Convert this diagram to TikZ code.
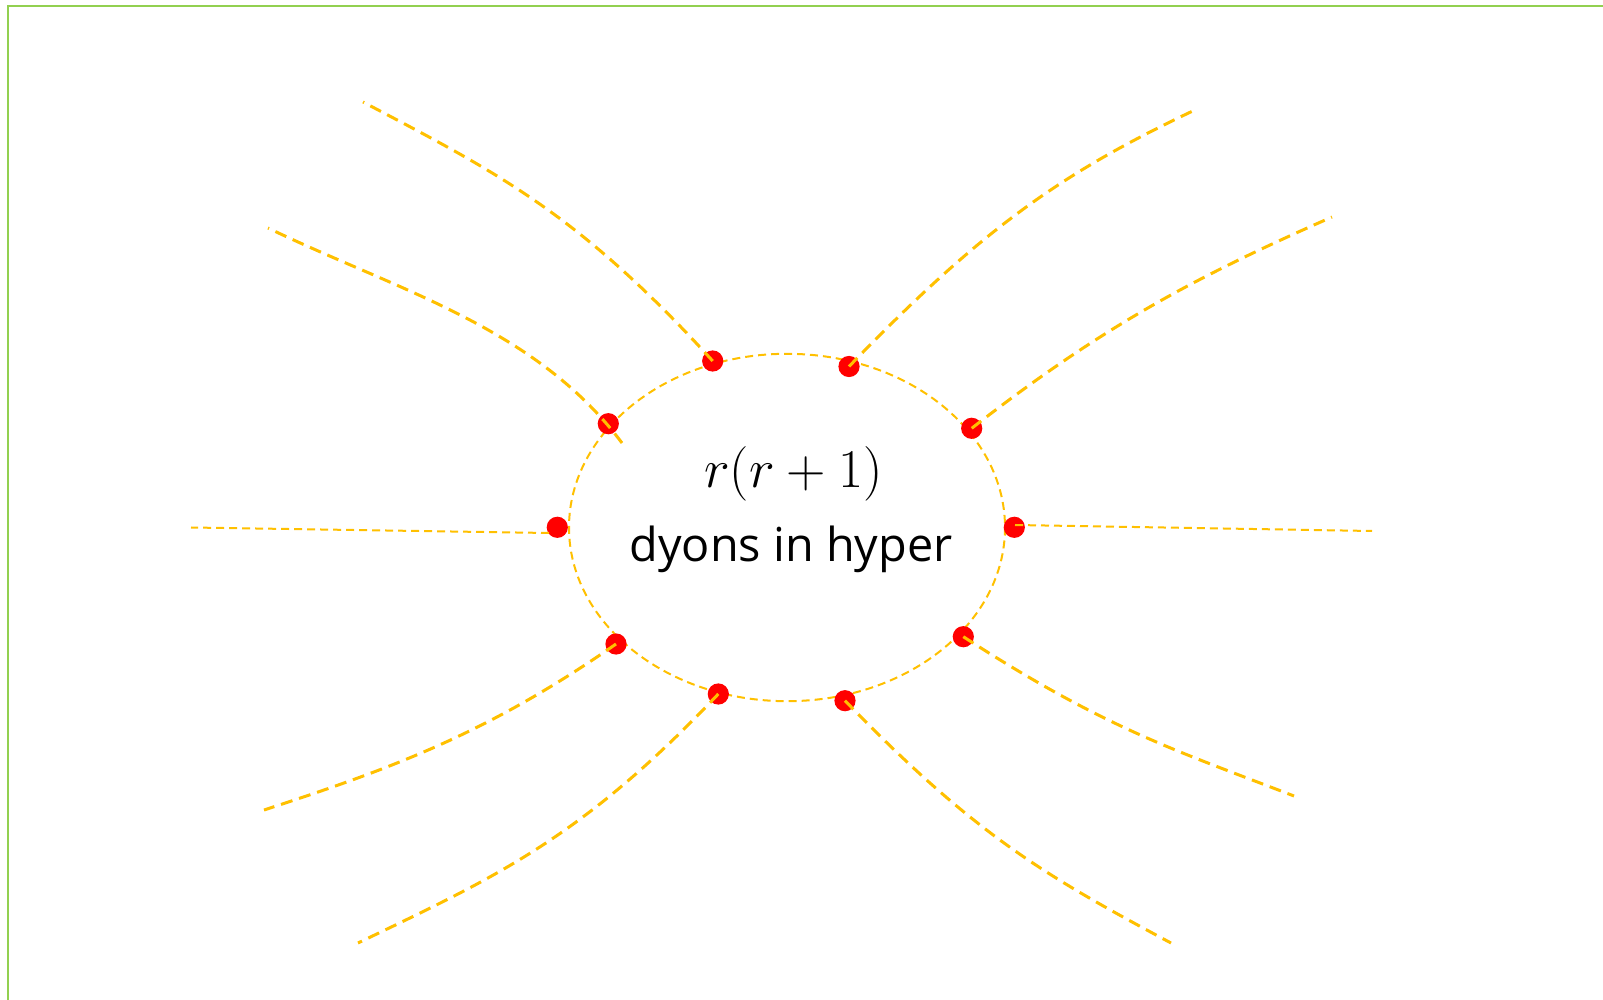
\RequirePackage{fix-cm}
\documentclass[tikz,border=0pt]{standalone}
\usepackage{fontspec}
\newfontfamily\labelfont{Open Sans}
\definecolor{gold}{HTML}{FFC000}
\definecolor{framegreen}{HTML}{92D050}
\tikzset{
  ring/.style={draw=gold, line width=1pt, dash pattern=on 4pt off 2.5pt},
  ray/.style={draw=gold, line width=1.5pt, dash pattern=on 6pt off 3.5pt},
  thinray/.style={draw=gold, line width=1pt, dash pattern=on 4pt off 2.5pt},
  dot/.style={circle, fill=red, draw=none, inner sep=0pt, minimum size=10.6pt},
  frame/.style={draw=framegreen, line width=1pt}
}
\begin{document}
\begin{tikzpicture}[x=0.5pt, y=-0.5pt]
\clip (0,0) rectangle (1603,1000);
\fill[white] (0,0) rectangle (1603,1000);
\draw[frame] (8.3,5.8) rectangle (1700,1100);

% central ellipse
\coordinate (c) at (787,527.5);
\draw[ring] (c) ellipse [x radius=218, y radius=173.7];

% dots
\node[dot] (d1) at (712.7,361) {};
\node[dot] (d2) at (849,366.5) {};
\node[dot] (d3) at (608.3,423.7) {};
\node[dot] (d4) at (971.7,428.3) {};
\node[dot] (d5) at (557.3,527.3) {};
\node[dot] (d6) at (1014.3,527.3) {};
\node[dot] (d7) at (616,644) {};
\node[dot] (d8) at (963.3,636.7) {};
\node[dot] (d9) at (718.3,694) {};
\node[dot] (d10) at (845,700.7) {};

% free ends
\coordinate (e1) at (363,102);
\coordinate (e2) at (1197,109);
\coordinate (s3) at (622,443);
\coordinate (e3) at (268,228);
\coordinate (e4) at (1332,217);
\coordinate (s5) at (549,533);
\coordinate (e5) at (191,527.5);
\coordinate (s6) at (1015,525);
\coordinate (e6) at (1372,531);
\coordinate (e7) at (264,810);
\coordinate (e8) at (1294,796);
\coordinate (e9) at (358,943);
\coordinate (e10) at (1171,943);

% rays
\draw[ray] (d1.center) .. controls (578,213) and (496,172) .. (e1);
\draw[ray] (d2.center) .. controls (982,229) and (1061,173) .. (e2);
\draw[ray] (s3) .. controls (535,327) and (399,291) .. (e3);
\draw[ray] (d4.center) .. controls (1106,324) and (1198,276) .. (e4);
\draw[thinray] (s5) -- (e5);
\draw[thinray] (s6) -- (e6);
\draw[ray] (d7.center) .. controls (488,733) and (393,768) .. (e7);
\draw[ray] (d8.center) .. controls (1106,729) and (1175,750) .. (e8);
\draw[ray] (d9.center) .. controls (580,840) and (493,878) .. (e9);
\draw[ray] (d10.center) .. controls (976,836) and (1046,876) .. (e10);

% labels
\node[anchor=base, inner sep=0pt] (m) at (793.5,487.5) {\fontsize{27.3}{32}\selectfont $r(r+1)$};
\node[anchor=base, inner sep=0pt, font=\labelfont\fontsize{23.4}{28}\selectfont] (t) at (791,561.7) {dyons in hyper};
\end{tikzpicture}
\end{document}
